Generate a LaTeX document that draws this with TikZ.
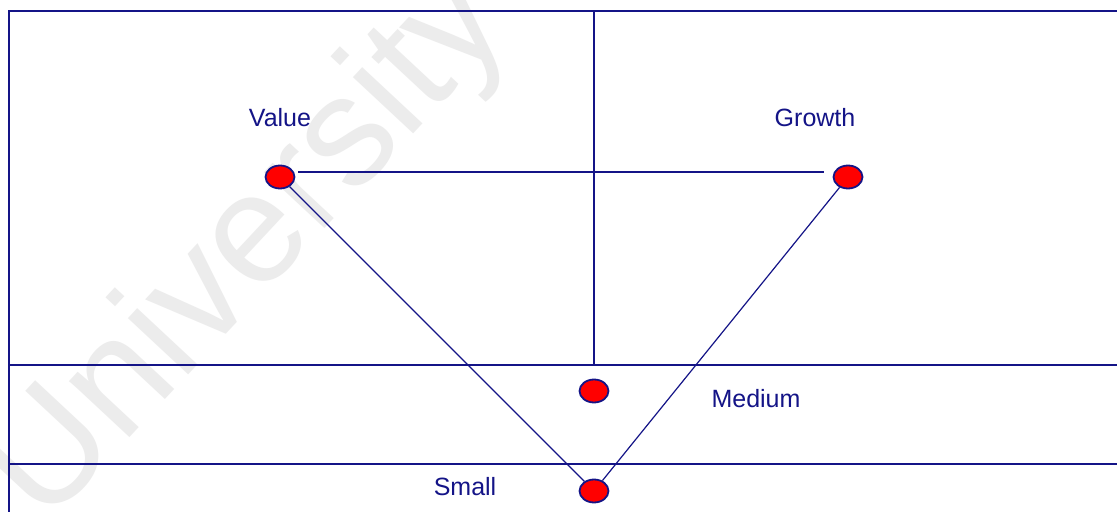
\documentclass[tikz,border=0pt]{standalone}
\usepackage{fontspec}
\setmainfont{Liberation Sans}
\usetikzlibrary{shapes.geometric}
\definecolor{navy}{RGB}{20,20,135}
\definecolor{wm}{RGB}{236,236,236}
\begin{document}
\begin{tikzpicture}[x=0.5pt,y=-0.5pt,
  frame/.style={draw=navy,line width=1pt},
  link/.style={draw=navy,line width=0.6pt},
  dot/.style={ellipse,draw=navy,fill=red,line width=0.9pt,minimum width=14.5pt,minimum height=11.5pt,inner sep=0pt},
  lbl/.style={text=navy,font=\fontsize{12.5pt}{14pt}\selectfont,inner sep=0pt},
  ]
\useasboundingbox (0,0) rectangle (1117,512);
\fill[white] (0,0) rectangle (1117,512);
% watermark
\node[text=wm,font=\fontsize{78pt}{90pt}\selectfont,rotate=47,inner sep=0pt] (wmk) at (250,250) {University};
% frame and grid
\draw[frame] (9,512) -- (9,11) -- (1117,11);
\draw[frame] (594,11) -- (594,365);
\draw[frame] (9,365) -- (1117,365);
\draw[frame] (9,464) -- (1117,464);
% dots
\node[dot] (v) at (280,177) {};
\node[dot] (g) at (848,177) {};
\node[dot] (m) at (594,391) {};
\node[dot] (s) at (594,491) {};
% labels
\node[lbl] (lv) at (280,118) {Value};
\node[lbl] (lg) at (815,118) {Growth};
\node[lbl] (lm) at (756,399) {Medium};
\node[lbl] (ls) at (465,487) {Small};
% connectors
\draw[frame,shorten <=1.5pt,shorten >=4.5pt] ([yshift=2.5pt]v.east) -- ([yshift=2.5pt]g.west);
\draw[link] (v) -- (s);
\draw[link] (g) -- (s);
\end{tikzpicture}
\end{document}
